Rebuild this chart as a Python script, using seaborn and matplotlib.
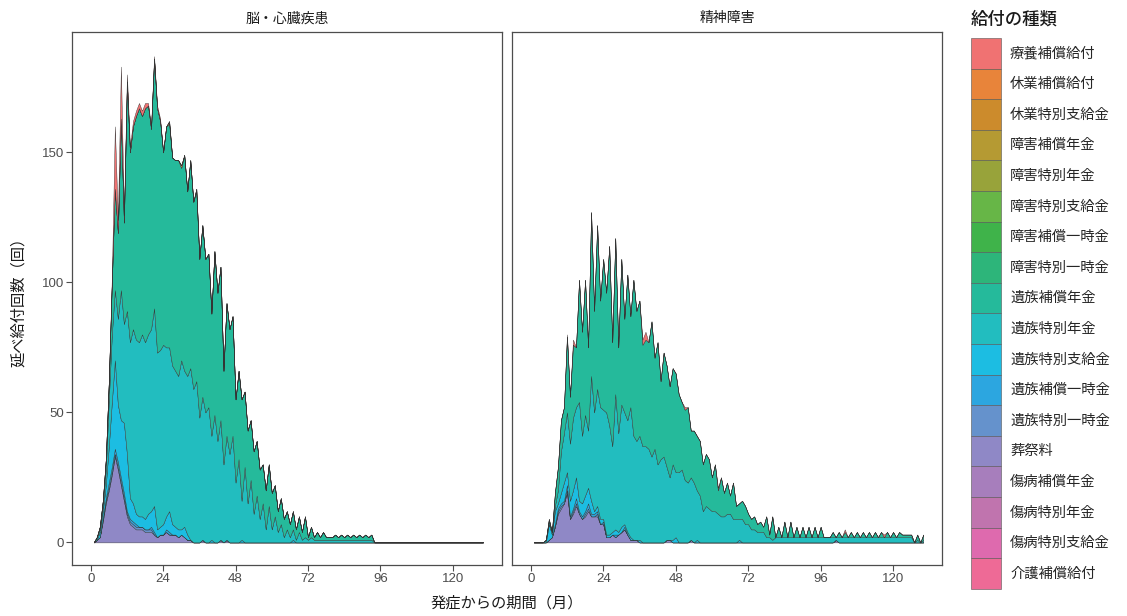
import numpy as np
import pandas as pd
import matplotlib
matplotlib.use("Agg")
import matplotlib.pyplot as plt
from matplotlib.patches import Patch
import seaborn as sns

# ---------------- data ----------------
levels = ["療養補償給付", "休業補償給付", "休業特別支給金", "障害補償年金", "障害特別年金",
          "障害特別支給金", "障害補償一時金", "障害特別一時金", "遺族補償年金", "遺族特別年金",
          "遺族特別支給金", "遺族補償一時金", "遺族特別一時金", "葬祭料", "傷病補償年金",
          "傷病特別年金", "傷病特別支給金", "介護補償給付"]
panels = ["脳・心臓疾患", "精神障害"]
months = list(range(1, 131))
x_ticks = [0, 24, 48, 72, 96, 120]
y_ticks = [0, 50, 100, 150]

# 脳・心臓疾患
L_sosai = ([0, 1, 2, 8, 15, 20, 26, 33, 28, 22,
            16, 10, 7, 6, 5, 5, 5, 4, 4, 4,
            3, 2, 3, 3, 4, 3, 3, 3, 2, 3,
            2, 1, 1, 0, 0, 0, 1, 0, 0, 0,
            0, 0, 1, 0, 1, 0, 0, 0, 0, 0] + [0] * 80)
L_izoku_toku_ichiji = ([0, 0, 0, 1, 1, 1, 1, 1, 1, 1,
                        1, 1, 1, 1, 1, 1, 1, 1, 1, 1] + [0] * 110)
L_izoku_hosho_ichiji = ([0, 0, 0, 0, 1, 2, 2, 2, 2, 2,
                         2, 1, 1, 1, 1, 0, 0, 0, 0, 1,
                         1, 0, 0, 0, 1, 1, 0, 0, 0, 0] + [0] * 100)
L_izoku_shikyu = ([0, 0, 2, 3, 5, 14, 25, 34, 22, 22,
                   27, 22, 8, 7, 4, 4, 4, 4, 6, 6,
                   10, 3, 3, 4, 5, 8, 4, 3, 3, 2,
                   4, 2, 0, 0, 0, 0, 0, 0, 0, 1,
                   0, 0, 0, 0, 0, 0, 0, 0, 0, 1,
                   0, 0, 0, 0, 0, 0, 0, 0, 0, 0,
                   0, 0, 0, 0, 0, 0, 1, 0, 0, 0] + [0] * 60)
L_izoku_toku_nenkin = ([0, 1, 1, 2, 6, 18, 26, 27, 33, 50,
                        38, 55, 60, 67, 67, 67, 70, 68, 69, 70,
                        76, 68, 68, 69, 65, 63, 61, 60, 59, 65,
                        60, 61, 66, 59, 62, 48, 55, 50, 52, 40,
                        49, 39, 46, 30, 40, 34, 41, 23, 32, 15,
                        29, 15, 24, 11, 18, 9, 15, 5, 14, 5,
                        10, 4, 7, 2, 5, 2, 4, 1, 4, 1,
                        2, 1, 2, 1, 1, 1, 1, 1, 1, 1,
                        1, 1, 1, 1, 1, 1, 1, 1, 1, 1,
                        1, 1, 1] + [0] * 37)
L_izoku_hosho_nenkin = ([0, 0, 1, 2, 4, 7, 20, 39, 33, 66,
                         39, 88, 73, 78, 86, 90, 84, 90, 88, 77,
                         96, 94, 88, 74, 85, 86, 80, 81, 83, 74,
                         83, 71, 80, 72, 73, 61, 66, 59, 59, 47,
                         63, 57, 59, 36, 51, 48, 46, 32, 34, 39,
                         29, 28, 23, 24, 21, 19, 15, 15, 16, 14,
                         12, 8, 10, 7, 7, 5, 7, 4, 6, 3,
                         8, 1, 4, 1, 3, 1, 3, 1, 1, 1,
                         2, 1, 2, 1, 2, 1, 2, 1, 2, 1,
                         2, 1, 2] + [0] * 37)
L_ryoyo = ([0, 0, 0, 0, 0, 0, 2, 24, 5, 20,
            3, 3, 2, 2, 2, 2, 2, 2, 1, 1,
            1, 1, 1] + [0] * 107)
L_kyugyo = [0] * 25 + [1, 0, 0, 0, 1, 0, 0, 0, 0, 1] + [0] * 95

# 精神障害
R_sosai = ([0, 0, 0, 0, 0, 1, 2, 6, 11, 13,
            15, 19, 9, 11, 14, 11, 9, 10, 12, 10,
            10, 10, 7, 7, 2, 2, 3, 2, 3, 4,
            5, 3, 1, 1, 1, 0, 0, 0, 0, 0,
            0, 0, 0, 0, 1, 1, 0, 0, 0, 0,
            0, 0, 1, 0, 0, 0, 0, 0, 0, 0] + [0] * 40 + [1] + [0] * 29)
R_izoku_toku_ichiji = ([0, 0, 0, 0, 0, 0, 0, 0, 1, 1,
                        0, 1, 0, 1, 1, 0, 0, 1, 1, 0,
                        0, 1] + [0] * 108)
R_izoku_hosho_ichiji = ([0, 0, 0, 0, 0, 0, 0, 1, 1, 1,
                         1, 2, 1, 1, 2, 1, 1, 1, 2, 1,
                         1, 1, 0, 1, 0, 0, 0, 1, 0, 0,
                         1] + [0] * 99)
R_izoku_shikyu = ([0, 0, 0, 0, 0, 6, 1, 5, 2, 4,
                   7, 5, 6, 7, 8, 4, 5, 6, 6, 5,
                   1, 2, 2, 1, 1, 1, 1, 2, 1, 2,
                   1, 1, 1, 0, 0, 1, 0, 0, 0, 0,
                   0, 0, 0, 0, 0, 0, 1, 2, 0, 0,
                   0, 0, 0, 0, 1, 0, 0, 0, 0, 0,
                   0, 0, 0, 0, 0, 0, 0, 0, 1, 0] + [0] * 60)
R_izoku_toku_nenkin = [0, 0, 0, 0, 1, 1, 1, 2, 5, 16,
                       19, 23, 22, 28, 27, 38, 26, 31, 22, 48,
                       38, 45, 43, 42, 47, 42, 33, 52, 38, 47,
                       43, 43, 50, 40, 38, 40, 37, 37, 36, 33,
                       36, 30, 32, 33, 28, 24, 29, 25, 27, 28,
                       24, 23, 24, 23, 19, 18, 12, 14, 13, 12,
                       12, 11, 10, 10, 11, 11, 9, 9, 8, 9,
                       7, 7, 5, 5, 4, 4, 4, 2, 2, 1,
                       2, 2, 2, 2, 2, 2, 2, 2, 2, 2,
                       2, 2, 2, 2, 2, 2, 2, 2, 2, 2,
                       1, 2, 2, 2, 2, 2, 2, 2, 2, 2,
                       2, 2, 2, 2, 2, 2, 2, 2, 2, 2,
                       2, 2, 2, 2, 2, 2, 0, 1, 0, 1]
R_izoku_hosho_nenkin = [0, 0, 0, 0, 0, 1, 0, 5, 9, 12,
                        10, 29, 18, 28, 23, 47, 40, 52, 32, 63,
                        39, 63, 41, 58, 46, 69, 40, 60, 33, 56,
                        36, 56, 35, 60, 50, 52, 39, 41, 41, 52,
                        35, 47, 30, 40, 39, 35, 37, 38, 30, 26,
                        27, 29, 18, 20, 21, 21, 18, 20, 19, 13,
                        18, 9, 15, 9, 12, 7, 14, 5, 6, 7,
                        7, 4, 4, 5, 3, 4, 2, 8, 1, 9,
                        0, 4, 0, 6, 0, 6, 0, 4, 0, 4,
                        0, 4, 0, 4, 0, 4, 0, 0, 0, 2,
                        0, 2, 0, 2, 0, 2, 0, 2, 0, 2,
                        0, 2, 0, 2, 0, 2, 0, 2, 0, 2,
                        0, 2, 1, 1, 1, 1, 0, 2, 0, 2]
R_ryoyo = ([0] * 11 + [1, 0, 2] + [0] * 22 + [2, 3] + [0] * 12 + [1] + [0] * 10
           + [1] + [0] * 41 + [1] + [0] * 12 + [1] + [0] * 13)

panel_series = {
    "脳・心臓疾患": {
        "療養補償給付": L_ryoyo, "休業補償給付": L_kyugyo,
        "遺族補償年金": L_izoku_hosho_nenkin, "遺族特別年金": L_izoku_toku_nenkin,
        "遺族特別支給金": L_izoku_shikyu, "遺族補償一時金": L_izoku_hosho_ichiji,
        "遺族特別一時金": L_izoku_toku_ichiji, "葬祭料": L_sosai,
    },
    "精神障害": {
        "療養補償給付": R_ryoyo,
        "遺族補償年金": R_izoku_hosho_nenkin, "遺族特別年金": R_izoku_toku_nenkin,
        "遺族特別支給金": R_izoku_shikyu, "遺族補償一時金": R_izoku_hosho_ichiji,
        "遺族特別一時金": R_izoku_toku_ichiji, "葬祭料": R_sosai,
    },
}

rows = []
for pname, sdict in panel_series.items():
    for sname, vals in sdict.items():
        assert len(vals) == len(months), (pname, sname, len(vals))
        for m, v in zip(months, vals):
            rows.append({"panel": pname, "month": m, "type": sname, "count": v})
df = pd.DataFrame(rows)

# ---------------- colours (hue palette as printed in the reference) ----------------
colors = ["#F07272", "#E8843A", "#CC8B2C", "#B59A33", "#98A33A", "#67B647",
          "#3FB34A", "#2DB57A", "#25BA9B", "#22BDBF", "#1CBDE2", "#2CA6E0",
          "#6592CC", "#8F88C6", "#A77EBC", "#C074AE", "#DE6AAE", "#EE6A96"]
palette = dict(zip(levels, colors))

# ---------------- plot ----------------
sns.set_theme(style="white")
plt.rcParams["font.family"] = ["Noto Sans CJK JP", "DejaVu Sans"]

W, H = 1127, 616
fig = plt.figure(figsize=(W / 100, H / 100), dpi=100)
ax_l = fig.add_axes([72.3 / W, 1 - 565 / H, 429.7 / W, 533 / H])
ax_r = fig.add_axes([512.3 / W, 1 - 565 / H, 430 / W, 533 / H])

for ax, pname in zip([ax_l, ax_r], panels):
    sub = df[df["panel"] == pname]
    sns.histplot(data=sub, x="month", weights="count", hue="type",
                 hue_order=levels, palette=palette, multiple="stack",
                 element="poly", discrete=True, stat="count", alpha=1,
                 edgecolor="#333333", linewidth=0.3, legend=False, ax=ax)
    ax.set_xlim(-6.1, 136.3)
    ax.set_ylim(-8.7, 196.3)
    ax.set_xticks(x_ticks)
    ax.set_xlabel("")
    ax.set_ylabel("")
    ax.set_title(pname, fontsize=10, pad=7, color="#1a1a1a")
    for sp in ax.spines.values():
        sp.set_color("#4d4d4d")
        sp.set_linewidth(0.9)
    ax.tick_params(axis="both", which="both", direction="out", length=4, width=0.8,
                   color="#4d4d4d", labelcolor="#4d4d4d", labelsize=9.5, pad=2,
                   bottom=True, left=True)
    for lab in ax.get_xticklabels():
        lab.set_fontfamily(["Liberation Sans", "DejaVu Sans"])
    ax.grid(False)

ax_l.set_yticks(y_ticks)
for lab in ax_l.get_yticklabels():
    lab.set_fontfamily(["Liberation Sans", "DejaVu Sans"])
ax_r.set_yticks([])
ax_r.tick_params(axis="y", left=False, labelleft=False)

fig.text(507 / W, 1 - 603 / H, "発症からの期間（月）", ha="center", va="center",
         fontsize=11, color="#1a1a1a")
fig.text(19 / W, 1 - 298 / H, "延べ給付回数（回）", ha="center", va="center",
         rotation=90, fontsize=11, color="#1a1a1a")

fig.text(971 / W, 1 - 20 / H, "給付の種類", ha="left", va="center",
         fontsize=12.5, fontweight="medium", color="#1a1a1a")
handles = [Patch(facecolor=palette[lev], edgecolor="#555555", linewidth=0.4) for lev in levels]
leg = fig.legend(handles, levels, loc="upper left", bbox_to_anchor=(971 / W, 1 - 38 / H),
                 frameon=False, fontsize=10.3,
                 handlelength=2.1, handleheight=2.914, labelspacing=0.0,
                 handletextpad=0.63, borderaxespad=0, borderpad=0)

fig.savefig("out.png", dpi=100)
